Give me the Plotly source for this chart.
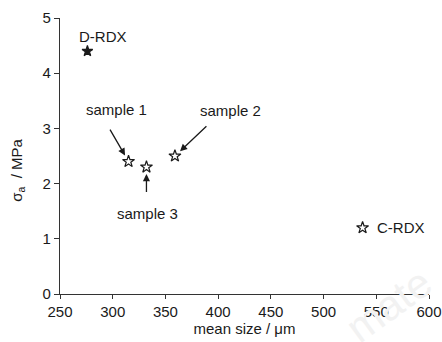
import plotly.graph_objects as go

# Data
names = ["D-RDX", "sample 1", "sample 3", "sample 2", "C-RDX"]
mean_size = [276, 315, 332, 359, 537]
sigma_a = [4.4, 2.4, 2.3, 2.5, 1.2]
filled = [True, False, False, False, False]

x_ticks = [250, 300, 350, 400, 450, 500, 550, 600]
y_ticks = [0, 1, 2, 3, 4, 5]

FONT = "Liberation Sans, Arial, sans-serif"
INK = "#1a1a1a"

fig = go.Figure()
for nm, xv, yv, fl in zip(names, mean_size, sigma_a, filled):
    fig.add_trace(go.Scatter(
        x=[xv], y=[yv], mode="markers", name=nm, showlegend=False,
        marker=dict(symbol="star" if fl else "star-open",
                    size=8 if fl else 9,
                    color=INK, line=dict(color=INK, width=1.2)),
    ))

# label placement (offsets in px from points) and arrows
label_cfg = {
    "D-RDX": dict(xshift=16, yshift=15, arrow=None),
    "sample 1": dict(xshift=-12, yshift=52, arrow=(-22, -38)),
    "sample 2": dict(xshift=56, yshift=46, arrow=(35, -33)),
    "sample 3": dict(xshift=1, yshift=-46, arrow=(0, 35)),
    "C-RDX": dict(xshift=38, yshift=0, arrow=None),
}

annotations = []
# faint watermark (drawn first, beneath other annotations)
annotations.append(dict(
    x=0.889, y=-0.04, xref="paper", yref="paper", xanchor="center",
    yanchor="middle", text="mate",
    textangle=-36, showarrow=False,
    font=dict(family=FONT, size=42, color="#f2f2f2"),
))
for nm, xv, yv in zip(names, mean_size, sigma_a):
    cfg = label_cfg[nm]
    annotations.append(dict(
        x=xv, y=yv, xref="x", yref="y", text=nm, showarrow=False,
        xshift=cfg["xshift"], yshift=cfg["yshift"],
        font=dict(family=FONT, size=15, color=INK),
    ))
    if cfg["arrow"] is not None:
        ax, ay = cfg["arrow"]
        annotations.append(dict(
            x=xv, y=yv, xref="x", yref="y", text=" ", showarrow=True,
            ax=ax, ay=ay, arrowhead=2, arrowsize=1.1, arrowwidth=1.3,
            arrowcolor=INK, standoff=7,
        ))

# y-axis title
annotations.append(dict(
    x=-0.114, y=0.45, xref="paper", yref="paper", xanchor="center",
    yanchor="middle",
    text="σ<sub>a</sub>  / MPa", textangle=-90, showarrow=False,
    font=dict(family=FONT, size=15, color=INK),
))

fig.update_layout(
    width=442, height=342,
    margin=dict(l=60, r=13, t=18, b=48, autoexpand=False),
    paper_bgcolor="white", plot_bgcolor="white",
    font=dict(family=FONT, size=15, color=INK),
    annotations=annotations,
    xaxis=dict(
        range=[250, 600], tickvals=x_ticks, ticks="outside", ticklen=4,
        tickwidth=1, tickcolor="#333", showline=True, linecolor="#333",
        linewidth=1.2, showgrid=False, zeroline=False, automargin=False,
        tickfont=dict(family=FONT, size=15, color=INK),
        title=dict(text="mean size / μm", standoff=4,
                   font=dict(family=FONT, size=15, color=INK)),
    ),
    yaxis=dict(
        range=[0, 5], tickvals=y_ticks, ticks="outside", ticklen=5,
        tickwidth=1, tickcolor="#333", showline=True, linecolor="#333",
        linewidth=1.2, showgrid=False, zeroline=False, automargin=False,
        tickfont=dict(family=FONT, size=15, color=INK),
    ),
)

fig.write_html(
    "out.html",
    config={"displayModeBar": False},
    post_script="document.body.style.margin='0';document.body.style.overflow='hidden';",
)
